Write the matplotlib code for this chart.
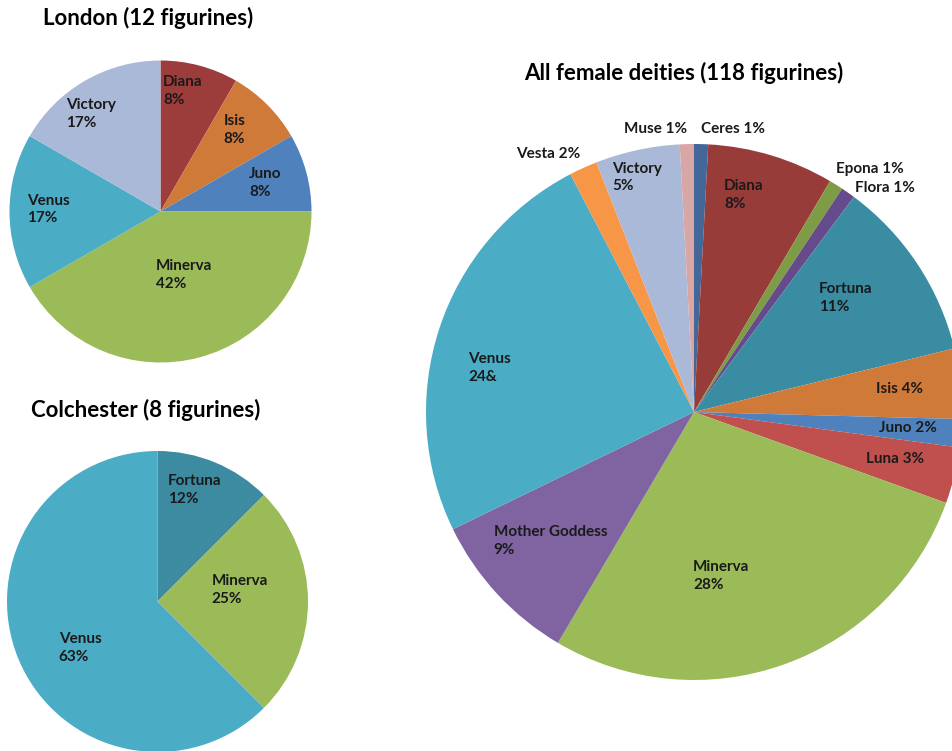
import numpy as np
import matplotlib
matplotlib.use("Agg")
import matplotlib.pyplot as plt

plt.rcParams['font.family'] = ['Lato', 'DejaVu Sans']

# London (12 figurines)
london_names = ['Diana', 'Isis', 'Juno', 'Minerva', 'Venus', 'Victory']
london_counts = [1, 1, 1, 5, 2, 2]
london_pct = ['8%', '8%', '8%', '42%', '17%', '17%']
london_colors = ['#9C3D3B', '#D07A3A', '#4F81BD', '#9BBB59', '#4BACC6', '#ABB9D8']

# Colchester (8 figurines)
colch_names = ['Fortuna', 'Minerva', 'Venus']
colch_counts = [1, 2, 5]
colch_pct = ['12%', '25%', '63%']
colch_colors = ['#3C8BA1', '#9BBB59', '#4BACC6']

# All female deities (118 figurines)
all_names = ['Ceres', 'Diana', 'Epona', 'Flora', 'Fortuna', 'Isis', 'Juno', 'Luna',
             'Minerva', 'Mother Goddess', 'Venus', 'Vesta', 'Victory', 'Muse']
all_counts = [1, 9, 1, 1, 13, 5, 2, 4, 33, 11, 29, 2, 6, 1]
all_pct = ['1%', '8%', '1%', '1%', '11%', '4%', '2%', '3%', '28%', '9%', '24&', '2%', '5%', '1%']
all_colors = ['#44679A', '#983C3A', '#7E9B45', '#654A8C', '#3A8CA2', '#D07A3A', '#4F81BD',
              '#C0504D', '#9BBB59', '#8064A2', '#4BACC6', '#F79646', '#ABB9D8', '#D9A6A6']

# label placement: radius (fraction of pie radius), angle nudge in degrees
london_lab = [(0.81, 4.4), (0.73, 3), (0.72, 0), (0.45, 5.3), (0.745, -1), (0.79, 5.5)]
colch_lab = [(0.78, 3.9), (0.55, 8), (0.60, 8.5)]
all_lab = [(1.03, 0), (0.83, 3.8), (1.12, -3.9), (1.10, -5.4), (0.71, 3.4), (0.77, 0.3),
           (0.80, 0.3), (0.77, 0.7), (0.62, -10.4), (0.72, -0.7), (0.78, 6.2), (1.03, 0),
           (0.90, 1.4), (1.03, 0)]
all_align = [('left', 'bottom'), None, None, None, None, None, None, None, None, None,
             None, ('right', 'bottom'), None, ('right', 'bottom')]
all_oneline = ['Ceres', 'Epona', 'Flora', 'Isis', 'Juno', 'Luna', 'Vesta', 'Muse']

W, H = 953, 751
fig = plt.figure(figsize=(W / 100, H / 100), dpi=100)
txt_color = '#1A1A1A'


def draw_pie(cx, cy, r, counts, colors, names, pct, lab, align=None, oneline=()):
    ax = fig.add_axes([(cx - r) / W, (H - cy - r) / H, 2 * r / W, 2 * r / H])
    wedges, _ = ax.pie(counts, colors=colors, startangle=90, counterclock=False,
                       wedgeprops=dict(linewidth=0))
    ax.set_xlim(-1, 1)
    ax.set_ylim(-1, 1)
    ax.set_aspect('equal')
    ax.axis('off')
    for i, w in enumerate(wedges):
        w.set_clip_on(False)
        mid = np.deg2rad((w.theta1 + w.theta2) / 2 + lab[i][1])
        d = lab[i][0]
        if names[i] in oneline:
            s = names[i] + ' ' + pct[i]
        else:
            s = names[i] + '\n' + pct[i]
        ha, va = 'center', 'center'
        if align is not None and align[i] is not None:
            ha, va = align[i]
        ax.text(d * np.cos(mid), d * np.sin(mid), s, ha=ha, va=va, multialignment='left',
                fontsize=11, fontweight='bold', color=txt_color, linespacing=1.35,
                clip_on=False)
    return ax


draw_pie(160.5, 211.5, 151, london_counts, london_colors, london_names, london_pct, london_lab)
draw_pie(157.5, 601.5, 150.5, colch_counts, colch_colors, colch_names, colch_pct, colch_lab)
draw_pie(694, 412, 268, all_counts, all_colors, all_names, all_pct, all_lab,
         align=all_align, oneline=all_oneline)

fig.text(148.5 / W, 1 - 18 / H, 'London (12 figurines)', ha='center', va='center',
         fontsize=16, fontweight='bold', color='black')
fig.text(146 / W, 1 - 410 / H, 'Colchester (8 figurines)', ha='center', va='center',
         fontsize=16, fontweight='bold', color='black')
fig.text(684 / W, 1 - 73 / H, 'All female deities (118 figurines)', ha='center', va='center',
         fontsize=16, fontweight='bold', color='black')

fig.savefig('out.png', dpi=100)
